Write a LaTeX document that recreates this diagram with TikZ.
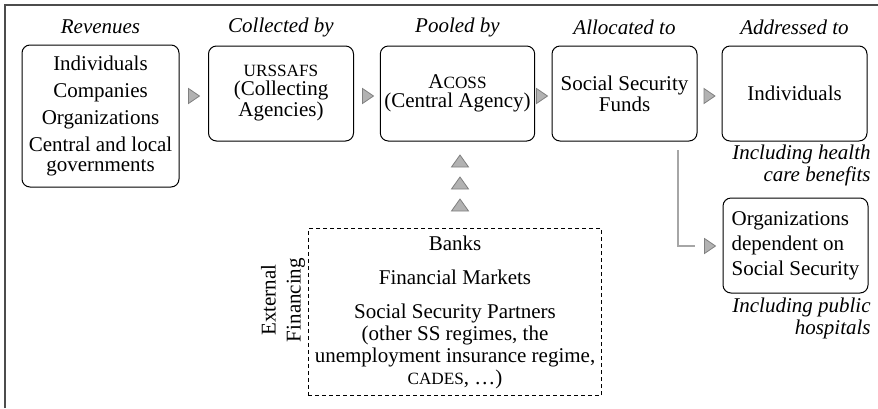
\documentclass[tikz,border=0pt]{standalone}
\usepackage{fontspec}
\setmainfont{Liberation Serif}
\usepackage{tikz}
\usetikzlibrary{calc}
\colorlet{tipgray}{black!30}
\colorlet{tipedge}{black!50}
\colorlet{framegray}{black!70}
\colorlet{linkgray}{black!35}
\newcommand{\fakesc}[1]{{\fontsize{8.6}{9}\selectfont #1}}

\tikzset{
  box/.style={draw, line width=0.5pt, rounded corners=4pt, align=center,
    font=\fontsize{10.5}{9.5}\selectfont, minimum width=72.5pt,
    minimum height=47.5pt, inner sep=2pt},
  head/.style={font=\fontsize{10.5}{12}\selectfont\itshape},
  note/.style={font=\fontsize{10.5}{11}\selectfont\itshape, align=right,
    inner sep=0pt, anchor=north east},
  righttip/.pic={\filldraw[fill=tipgray, draw=tipedge, line width=0.4pt]
    (-5.5,-7.5) -- (5.5,0) -- (-5.5,7.5) -- cycle;},
  uptip/.pic={\filldraw[fill=tipgray, draw=tipedge, line width=0.4pt]
    (-8.5,6) -- (0,-6) -- (8.5,6) -- cycle;}
}

\begin{document}
\begin{tikzpicture}[x=0.5pt, y=-0.5pt]
  \useasboundingbox (0,0) rectangle (878,408);
  % frame
  \draw[framegray, line width=1pt] (5,408) -- (5,5) -- (878,5);
  % coordinates
  \coordinate (headline) at (0,27);
  \coordinate (drop) at (678,150);
  \coordinate (dropend) at (695,246);
  % boxes
  \node[box, minimum width=78.5pt, minimum height=71pt,
    font=\fontsize{10.5}{10}\selectfont] (rev) at (100.5,116)
    {Individuals\\[3.5pt]Companies\\[3.5pt]Organizations\\[3.5pt]Central and local\\governments};
  \node[box] (urs) at (281,93.5) {\fakesc{URSSAFS}\\(Collecting\\Agencies)};
  \node[box, minimum width=74.5pt] (acoss) at (457.5,93.5) {A\fakesc{COSS}\\(Central Agency)};
  \node[box] (ssf) at (624.5,93.5) {Social Security\\Funds};
  \node[box] (ind) at (794.5,93.5) {Individuals};
  \node[box, align=left, font=\fontsize{10.5}{12.5}\selectfont] (org) at (795.5,245.5)
    {Organizations\\dependent on\\Social Security};
  % headers
  \node[head] (hrev) at (rev |- headline) {Revenues};
  \node[head] (hurs) at (urs |- headline) {Collected by};
  \node[head] (hacoss) at (acoss |- headline) {Pooled by};
  \node[head] (hssf) at (ssf |- headline) {Allocated to};
  \node[head] (hind) at (ind |- headline) {Addressed to};
  % notes
  \node[note] (indnote) at (871,145) {Including health\\care benefits};
  \node[note] (orgnote) at (871,298) {Including public\\hospitals};
  % flow tips
  \pic at (194,96) {righttip};
  \pic at (368,96) {righttip};
  \pic at (542,96) {righttip};
  \pic at (709.5,96) {righttip};
  % funds -> organizations
  \draw[linkgray, line width=0.6pt] (drop) |- (dropend);
  \pic at (710,246) {righttip};
  % external financing
  \node[draw, dashed, dash pattern=on 2pt off 1.5pt, line width=0.5pt,
    minimum width=143pt, minimum height=83pt, align=center,
    font=\fontsize{10.5}{11}\selectfont] (ext) at (455,312)
    {Banks\\[6pt]Financial Markets\\[6pt]Social Security Partners\\(other SS regimes, the\\unemployment insurance regime,\\\fakesc{CADES}, \dots)};
  \node[rotate=90, align=center, font=\fontsize{10.5}{12.5}\selectfont] (extlabel) at (283,300)
    {External\\Financing};
  \foreach \y in {161,183,205}
    \pic at (460,\y) {uptip};
\end{tikzpicture}
\end{document}
